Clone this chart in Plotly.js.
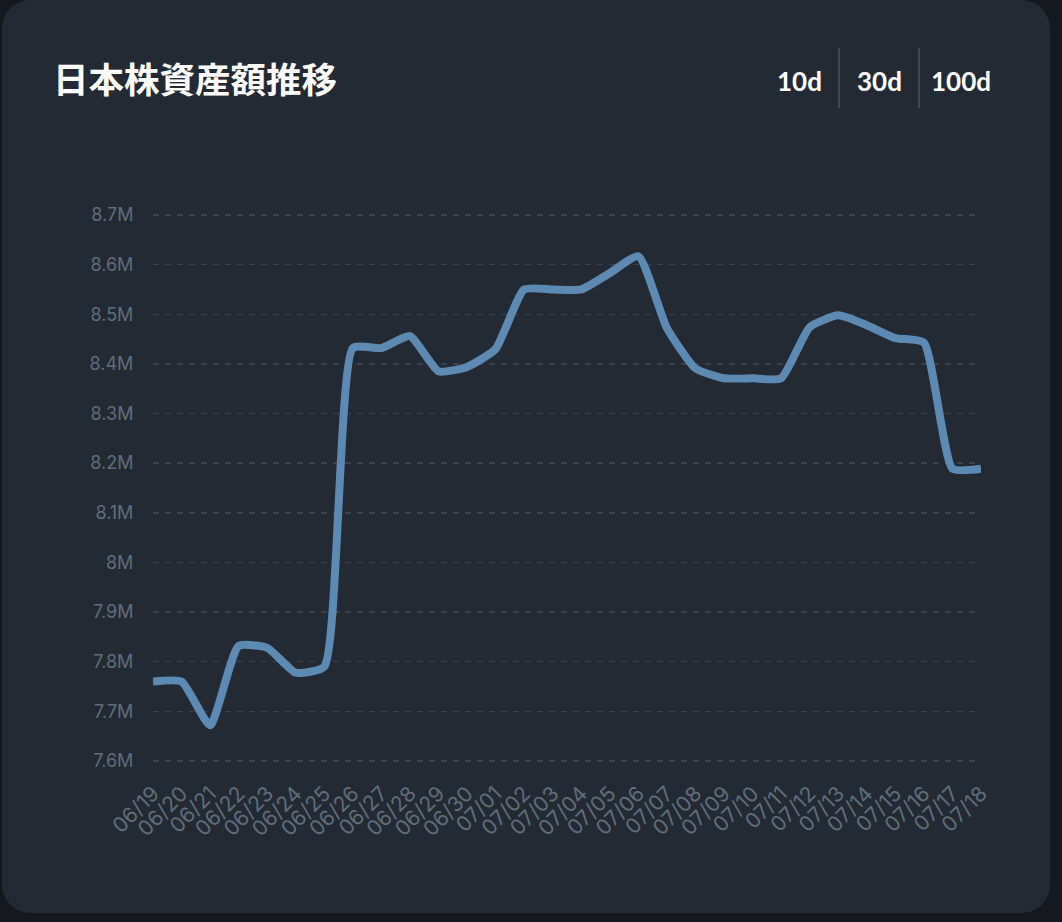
<!DOCTYPE html>
<html>
<head>
<meta charset="utf-8">
<script src="https://cdn.plot.ly/plotly-3.0.1.min.js"></script>
<style>
  html, body { margin: 0; padding: 0; background: #15191e; width: 1062px; height: 922px; overflow: hidden; }
  #card { position: absolute; left: 2px; top: 0px; width: 1048px; height: 913px; background: #232a34; border-radius: 28px; }
  #chart { position: absolute; left: 0; top: 0; width: 1062px; height: 922px; }
</style>
</head>
<body>
<div id="card"></div>
<div id="chart"></div>
<script>
// ---- data ----
const chartTitle = "日本株資産額推移";
const dates = ["06/19","06/20","06/21","06/22","06/23","06/24","06/25","06/26","06/27","06/28",
               "06/29","06/30","07/01","07/02","07/03","07/04","07/05","07/06","07/07","07/08",
               "07/09","07/10","07/11","07/12","07/13","07/14","07/15","07/16","07/17","07/18"];
const assetValues = [7760000,7760000,7672000,7832000,7828000,7778000,7790000,8432000,8432000,8456000,
                     8385000,8394000,8430000,8550000,8550000,8550000,8583000,8617000,8472000,8391000,
                     8371000,8371000,8371000,8474000,8498000,8478000,8452000,8443000,8189000,8189000];
const rangeButtons = ["10d","30d","100d"];

// ---- layout helpers (pixel -> paper) ----
const W = 1062, H = 922;
const plotL = 153, plotR = 981, plotT = 205, plotB = 771;
const pw = plotR - plotL, ph = plotB - plotT;
const px = x => (x - plotL) / pw;
const py = y => (plotB - y) / ph;

const xIdx = dates.map((d, i) => i);

const trace = {
  x: xIdx,
  y: assetValues,
  type: "scatter",
  mode: "lines",
  line: { color: "#5d8ab3", width: 8, shape: "spline", smoothing: 0.5 },
  cliponaxis: false,
  hoverinfo: "skip"
};

const btnX = [799.5, 879, 961];
const annotations = rangeButtons.map((t, i) => ({
  text: "<b>" + t + "</b>",
  xref: "paper", yref: "paper",
  x: px(btnX[i]), y: py(81),
  xanchor: "center", yanchor: "middle",
  showarrow: false,
  font: { family: "Lato, 'Noto Sans', sans-serif", size: 26, color: "#ffffff" }
}));

const sepX = [839, 919];
const shapes = sepX.map(sx => ({
  type: "line", xref: "paper", yref: "paper",
  x0: px(sx), x1: px(sx), y0: py(48), y1: py(108),
  line: { color: "#4a525e", width: 1.5 }
}));

const yPerPx = 1100000 / (761 - 215);
const layout = {
  width: W, height: H,
  paper_bgcolor: "rgba(0,0,0,0)",
  plot_bgcolor: "rgba(0,0,0,0)",
  margin: { l: plotL, r: W - plotR, t: plotT, b: H - plotB, pad: 0 },
  showlegend: false,
  title: {
    text: chartTitle,
    xref: "container", yref: "container",
    x: 53 / W, xanchor: "left",
    y: 1 - 81 / H, yanchor: "middle",
    font: { family: "'Noto Sans CJK JP', sans-serif", size: 35.5, color: "#ffffff", weight: 700 }
  },
  xaxis: {
    type: "linear",
    range: [0, dates.length - 1],
    tickmode: "array",
    tickvals: xIdx,
    ticktext: dates,
    tickangle: -45,
    showgrid: false, zeroline: false, showline: false,
    ticks: "outside", ticklen: 1, tickcolor: "rgba(0,0,0,0)",
    tickfont: { family: "Inter, 'Noto Sans', sans-serif", size: 21, color: "#616d7a" },
    fixedrange: true
  },
  yaxis: {
    range: [7600000 - 10 * yPerPx, 8700000 + 10 * yPerPx],
    tickmode: "linear", tick0: 7600000, dtick: 100000,
    tickformat: "~s",
    showgrid: true, gridcolor: "#3a424d", gridwidth: 1.5, griddash: "6px,6px",
    zeroline: false, showline: false,
    ticks: "outside", ticklen: 15, tickcolor: "rgba(0,0,0,0)",
    tickfont: { family: "Inter, 'Noto Sans', sans-serif", size: 18, color: "#616d7a" },
    fixedrange: true
  },
  annotations: annotations,
  shapes: shapes
};

Plotly.newPlot("chart", [trace], layout, { displayModeBar: false, staticPlot: true });
</script>
</body>
</html>
